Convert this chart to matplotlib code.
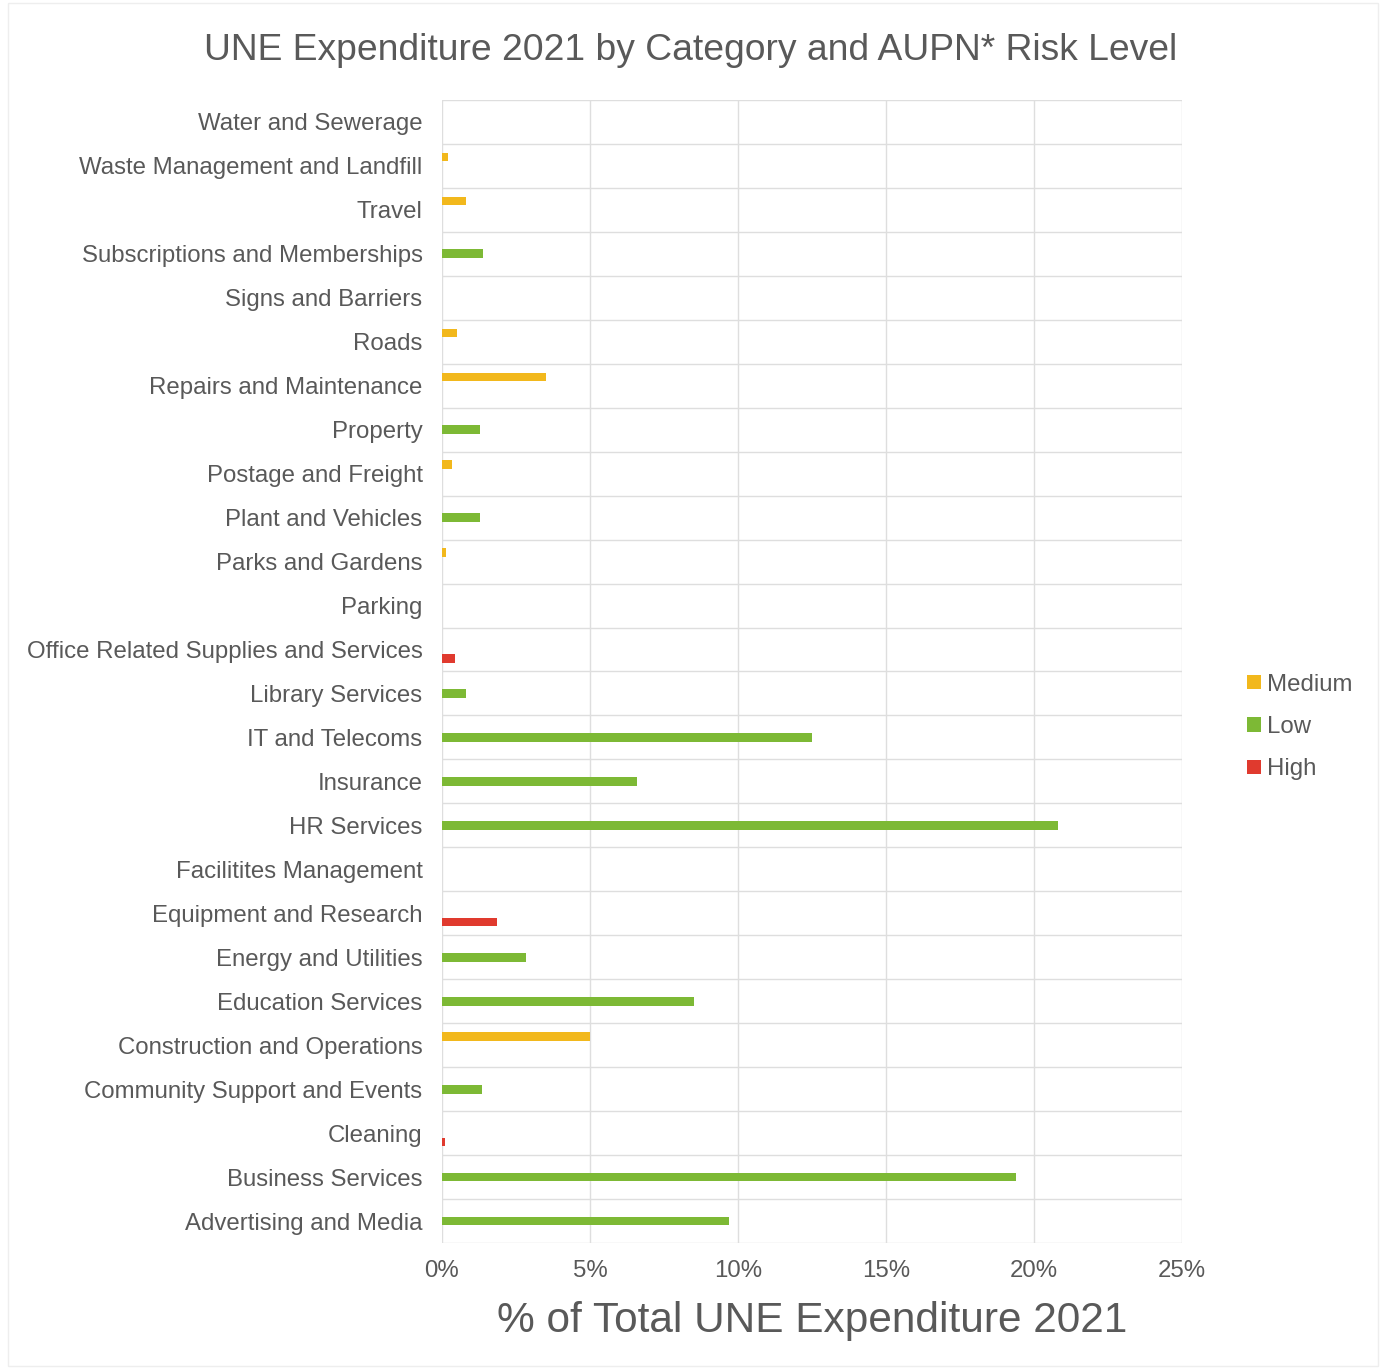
import numpy as np
import matplotlib
matplotlib.use("Agg")
import matplotlib.pyplot as plt
from matplotlib.ticker import FuncFormatter, MultipleLocator

plt.rcParams['font.family'] = ['Liberation Sans', 'DejaVu Sans']

# categories, bottom to top
categories = [
    "Advertising and Media", "Business Services", "Cleaning",
    "Community Support and Events", "Construction and Operations",
    "Education Services", "Energy and Utilities", "Equipment and Research",
    "Facilitites Management", "HR Services", "Insurance", "IT and Telecoms",
    "Library Services", "Office Related Supplies and Services", "Parking",
    "Parks and Gardens", "Plant and Vehicles", "Postage and Freight",
    "Property", "Repairs and Maintenance", "Roads", "Signs and Barriers",
    "Subscriptions and Memberships", "Travel", "Waste Management and Landfill",
    "Water and Sewerage",
]

# % of total expenditure per risk level (0 = none)
medium = [0, 0, 0, 0, 5.0, 0, 0, 0, 0, 0, 0, 0, 0, 0, 0,
          0.15, 0, 0.35, 0, 3.5, 0.5, 0, 0, 0.8, 0.2, 0]
low = [9.7, 19.4, 0, 1.35, 0, 8.5, 2.85, 0, 0, 20.8, 6.6, 12.5, 0.8, 0, 0,
       0, 1.3, 0, 1.3, 0, 0, 0, 1.4, 0, 0, 0]
high = [0, 0, 0.1, 0, 0, 0, 0, 1.85, 0, 0, 0, 0, 0, 0.45, 0,
        0, 0, 0, 0, 0, 0, 0, 0, 0, 0, 0]

c_med = "#F2B81C"
c_low = "#7DB935"
c_high = "#E03A2E"
txt = "#595959"
grid_c = "#DEDEDE"

fig = plt.figure(figsize=(13.82, 13.69), dpi=100)
ax = fig.add_axes([0.3198, 0.092, 0.8553 - 0.3198, 0.927 - 0.092])

y = np.arange(len(categories))
h = 0.2
ax.barh(y + h, medium, height=h, color=c_med, label="Medium")
ax.barh(y, low, height=h, color=c_low, label="Low")
ax.barh(y - h, high, height=h, color=c_high, label="High")

ax.set_xlim(0, 25)
ax.set_ylim(-0.5, len(categories) - 0.5)
ax.xaxis.set_major_locator(MultipleLocator(5))
ax.xaxis.set_major_formatter(FuncFormatter(lambda v, p: f"{v:.0f}%"))
ax.set_yticks(y)
ax.set_yticklabels(categories)
ax.set_yticks(np.arange(-0.5, len(categories), 1), minor=True)

ax.grid(axis="x", which="major", color=grid_c, lw=1)
ax.grid(axis="y", which="minor", color=grid_c, lw=1)
ax.set_axisbelow(True)
for s in ax.spines.values():
    s.set_visible(False)
ax.tick_params(axis="both", which="both", length=0, colors=txt)
ax.tick_params(axis="y", labelsize=17.3, pad=14)
ax.tick_params(axis="x", labelsize=17.3, pad=12)
for lab in ax.get_xticklabels():
    lab.set_color(txt)
for lab in ax.get_yticklabels():
    lab.set_color(txt)

ax.set_xlabel("% of Total UNE Expenditure 2021", fontsize=30.5, color=txt, labelpad=14)
fig.text(0.5, 0.963, "UNE Expenditure 2021 by Category and AUPN* Risk Level",
         fontsize=26.8, color=txt, ha="center", va="center")

leg = fig.legend(loc="center left", bbox_to_anchor=(0.887, 0.469), frameon=False,
                 fontsize=17.3, handlelength=0.55, handleheight=0.55,
                 handletextpad=0.25, labelspacing=0.85, labelcolor=txt)

# faint outer frame of the chart
fig.patches.append(plt.Rectangle((0.006, 0.002), 0.991, 0.996, transform=fig.transFigure,
                                 fill=False, ec="#EEEEEE", lw=1))

fig.savefig("out.png", dpi=100, facecolor="white")
